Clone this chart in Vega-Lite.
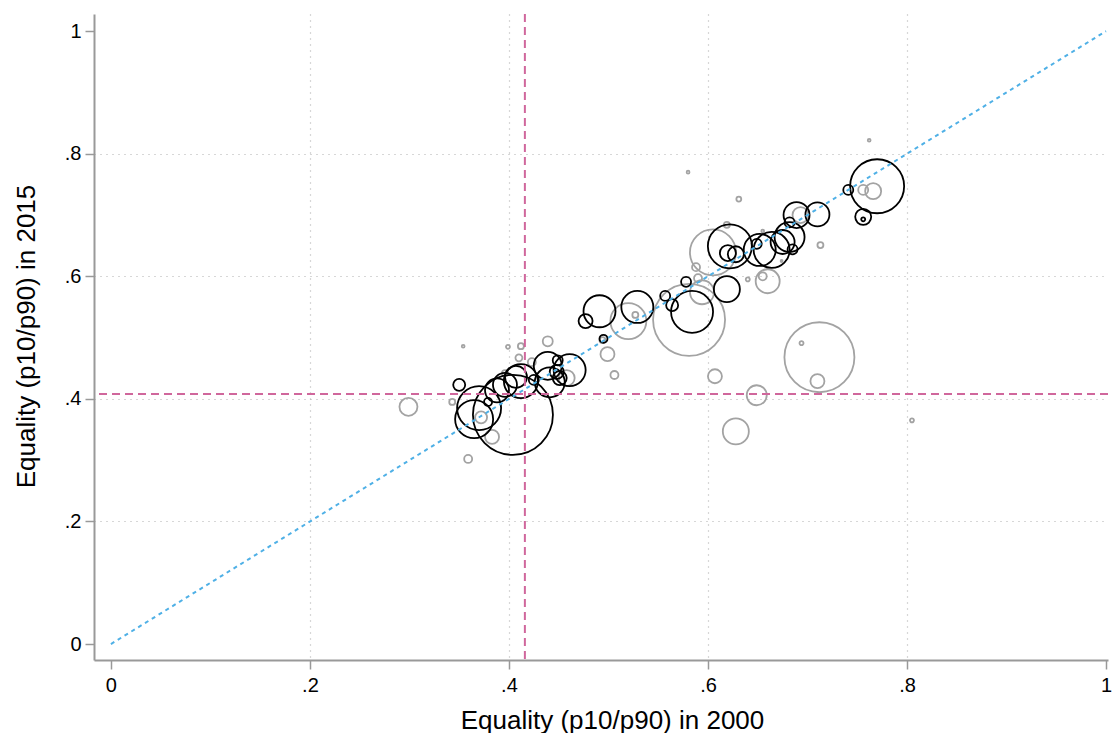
{
  "$schema": "https://vega.github.io/schema/vega-lite/v6.json",
  "width": 1014,
  "height": 646,
  "autosize": {"type": "none"},
  "padding": {"left": 94, "top": 14, "right": 5, "bottom": 73},
  "background": "white",
  "config": {"view": {"stroke": null}, "font": "Liberation Sans"},
  "datasets": {
    "pts": [
      {"g": "gray", "x": 0.581, "y": 0.529, "p": 1296},
      {"g": "gray", "x": 0.712, "y": 0.468, "p": 1225},
      {"g": "gray", "x": 0.710, "y": 0.429, "p": 49},
      {"g": "gray", "x": 0.694, "y": 0.491, "p": 4},
      {"g": "gray", "x": 0.607, "y": 0.437, "p": 49},
      {"g": "gray", "x": 0.649, "y": 0.406, "p": 100},
      {"g": "gray", "x": 0.628, "y": 0.347, "p": 169},
      {"g": "gray", "x": 0.660, "y": 0.592, "p": 144},
      {"g": "gray", "x": 0.655, "y": 0.600, "p": 16},
      {"g": "gray", "x": 0.640, "y": 0.595, "p": 4},
      {"g": "gray", "x": 0.520, "y": 0.527, "p": 324},
      {"g": "gray", "x": 0.527, "y": 0.537, "p": 9},
      {"g": "gray", "x": 0.499, "y": 0.473, "p": 49},
      {"g": "gray", "x": 0.506, "y": 0.439, "p": 16},
      {"g": "gray", "x": 0.494, "y": 0.496, "p": 9},
      {"g": "gray", "x": 0.594, "y": 0.574, "p": 144},
      {"g": "gray", "x": 0.588, "y": 0.615, "p": 16},
      {"g": "gray", "x": 0.590, "y": 0.597, "p": 16},
      {"g": "gray", "x": 0.605, "y": 0.639, "p": 529},
      {"g": "gray", "x": 0.619, "y": 0.684, "p": 9},
      {"g": "gray", "x": 0.631, "y": 0.726, "p": 6},
      {"g": "gray", "x": 0.580, "y": 0.770, "p": 2},
      {"g": "gray", "x": 0.762, "y": 0.822, "p": 2},
      {"g": "gray", "x": 0.766, "y": 0.739, "p": 64},
      {"g": "gray", "x": 0.756, "y": 0.741, "p": 25},
      {"g": "gray", "x": 0.713, "y": 0.651, "p": 9},
      {"g": "gray", "x": 0.655, "y": 0.674, "p": 2},
      {"g": "gray", "x": 0.674, "y": 0.625, "p": 1},
      {"g": "gray", "x": 0.693, "y": 0.700, "p": 64},
      {"g": "gray", "x": 0.805, "y": 0.365, "p": 4},
      {"g": "gray", "x": 0.354, "y": 0.486, "p": 2},
      {"g": "gray", "x": 0.299, "y": 0.387, "p": 81},
      {"g": "gray", "x": 0.343, "y": 0.395, "p": 9},
      {"g": "gray", "x": 0.359, "y": 0.302, "p": 16},
      {"g": "gray", "x": 0.383, "y": 0.338, "p": 49},
      {"g": "gray", "x": 0.372, "y": 0.370, "p": 36},
      {"g": "gray", "x": 0.399, "y": 0.485, "p": 4},
      {"g": "gray", "x": 0.412, "y": 0.486, "p": 9},
      {"g": "gray", "x": 0.410, "y": 0.467, "p": 12},
      {"g": "gray", "x": 0.439, "y": 0.494, "p": 25},
      {"g": "gray", "x": 0.396, "y": 0.442, "p": 9},
      {"g": "gray", "x": 0.423, "y": 0.460, "p": 16},
      {"g": "gray", "x": 0.458, "y": 0.434, "p": 64},
      {"g": "black", "x": 0.404, "y": 0.374, "p": 1600},
      {"g": "black", "x": 0.370, "y": 0.385, "p": 484},
      {"g": "black", "x": 0.365, "y": 0.367, "p": 361},
      {"g": "black", "x": 0.350, "y": 0.423, "p": 36},
      {"g": "black", "x": 0.379, "y": 0.395, "p": 16},
      {"g": "black", "x": 0.388, "y": 0.414, "p": 144},
      {"g": "black", "x": 0.396, "y": 0.423, "p": 144},
      {"g": "black", "x": 0.407, "y": 0.436, "p": 121},
      {"g": "black", "x": 0.412, "y": 0.429, "p": 289},
      {"g": "black", "x": 0.425, "y": 0.431, "p": 25},
      {"g": "black", "x": 0.439, "y": 0.454, "p": 196},
      {"g": "black", "x": 0.441, "y": 0.427, "p": 225},
      {"g": "black", "x": 0.449, "y": 0.463, "p": 25},
      {"g": "black", "x": 0.451, "y": 0.434, "p": 49},
      {"g": "black", "x": 0.461, "y": 0.447, "p": 256},
      {"g": "black", "x": 0.448, "y": 0.444, "p": 49},
      {"g": "black", "x": 0.477, "y": 0.527, "p": 49},
      {"g": "black", "x": 0.491, "y": 0.543, "p": 256},
      {"g": "black", "x": 0.495, "y": 0.498, "p": 16},
      {"g": "black", "x": 0.529, "y": 0.550, "p": 256},
      {"g": "black", "x": 0.557, "y": 0.568, "p": 25},
      {"g": "black", "x": 0.564, "y": 0.553, "p": 36},
      {"g": "black", "x": 0.578, "y": 0.591, "p": 25},
      {"g": "black", "x": 0.584, "y": 0.542, "p": 441},
      {"g": "black", "x": 0.619, "y": 0.579, "p": 169},
      {"g": "black", "x": 0.622, "y": 0.649, "p": 484},
      {"g": "black", "x": 0.620, "y": 0.638, "p": 64},
      {"g": "black", "x": 0.628, "y": 0.636, "p": 64},
      {"g": "black", "x": 0.649, "y": 0.653, "p": 25},
      {"g": "black", "x": 0.652, "y": 0.643, "p": 256},
      {"g": "black", "x": 0.664, "y": 0.643, "p": 324},
      {"g": "black", "x": 0.675, "y": 0.656, "p": 144},
      {"g": "black", "x": 0.682, "y": 0.664, "p": 225},
      {"g": "black", "x": 0.685, "y": 0.644, "p": 25},
      {"g": "black", "x": 0.682, "y": 0.688, "p": 25},
      {"g": "black", "x": 0.689, "y": 0.700, "p": 169},
      {"g": "black", "x": 0.710, "y": 0.701, "p": 144},
      {"g": "black", "x": 0.741, "y": 0.741, "p": 25},
      {"g": "black", "x": 0.756, "y": 0.697, "p": 64},
      {"g": "black", "x": 0.756, "y": 0.693, "p": 4},
      {"g": "black", "x": 0.770, "y": 0.747, "p": 729}
    ],
    "diag": [{"x": 0, "y": 0}, {"x": 1, "y": 1}],
    "vref": [{"x": 0.416}],
    "href": [{"y": 0.408}]
  },
  "layer": [
    {
      "data": {"name": "pts"},
      "mark": {"type": "point", "filled": false, "strokeWidth": 1.8, "opacity": 1},
      "encoding": {
        "x": {
          "field": "x", "type": "quantitative",
          "scale": {"domain": [-0.017, 1.002], "nice": false, "zero": false},
          "axis": {
            "values": [0, 0.2, 0.4, 0.6, 0.8, 1],
            "labelExpr": "datum.value == 0 ? '0' : datum.value == 1 ? '1' : replace(format(datum.value, '.1f'), '0.', '.')",
            "title": "Equality (p10/p90) in 2000",
            "domainColor": "#999999", "domainWidth": 2,
            "tickColor": "#999999", "tickWidth": 1.5, "tickSize": 9,
            "labelFontSize": 20, "labelColor": "#000000", "labelPadding": 6, "labelFlush": false,
            "titleFontSize": 26, "titleFontWeight": "normal", "titleColor": "#000000",
            "titleX": 518, "titleY": 68, "titleAlign": "center", "titleBaseline": "alphabetic",
            "grid": true, "gridColor": "#b0b0b0", "gridDash": [1, 5], "gridWidth": 1.2,
            "gridOpacity": {"condition": {"test": "datum.value == 0 || datum.value == 1", "value": 0}, "value": 1}
          }
        },
        "y": {
          "field": "y", "type": "quantitative",
          "scale": {"domain": [-0.026, 1.028], "nice": false, "zero": false},
          "axis": {
            "values": [0, 0.2, 0.4, 0.6, 0.8, 1],
            "labelExpr": "datum.value == 0 ? '0' : datum.value == 1 ? '1' : replace(format(datum.value, '.1f'), '0.', '.')",
            "title": "Equality (p10/p90) in 2015",
            "domainColor": "#999999", "domainWidth": 2,
            "tickColor": "#999999", "tickWidth": 1.5, "tickSize": 9,
            "labelFontSize": 20, "labelColor": "#000000", "labelPadding": 4, "labelFlush": false,
            "titleFontSize": 26, "titleFontWeight": "normal", "titleColor": "#000000",
            "titleAngle": 270, "titleX": -60, "titleY": 322, "titleAlign": "center", "titleBaseline": "alphabetic",
            "grid": true, "gridColor": "#b0b0b0", "gridDash": [1, 5], "gridWidth": 1.2,
            "gridOpacity": {"condition": {"test": "datum.value == 0 || datum.value == 1", "value": 0}, "value": 1}
          }
        },
        "size": {"field": "p", "type": "quantitative", "scale": {"type": "linear", "domain": [0, 1600], "range": [0, 6400], "zero": true}, "legend": null},
        "color": {"field": "g", "type": "nominal", "scale": {"domain": ["gray", "black"], "range": ["#a3a3a3", "#000000"]}, "legend": null}
      }
    },
    {
      "data": {"name": "diag"},
      "mark": {"type": "line", "color": "#4fb0e6", "strokeWidth": 2, "strokeDash": [4, 4]},
      "encoding": {
        "x": {"field": "x", "type": "quantitative"},
        "y": {"field": "y", "type": "quantitative"}
      }
    },
    {
      "data": {"name": "vref"},
      "mark": {"type": "rule", "color": "#d0679c", "strokeWidth": 2, "strokeDash": [8, 5]},
      "encoding": {"x": {"field": "x", "type": "quantitative"}}
    },
    {
      "data": {"name": "href"},
      "mark": {"type": "rule", "color": "#d0679c", "strokeWidth": 2, "strokeDash": [8, 5]},
      "encoding": {"y": {"field": "y", "type": "quantitative"}}
    }
  ]
}
